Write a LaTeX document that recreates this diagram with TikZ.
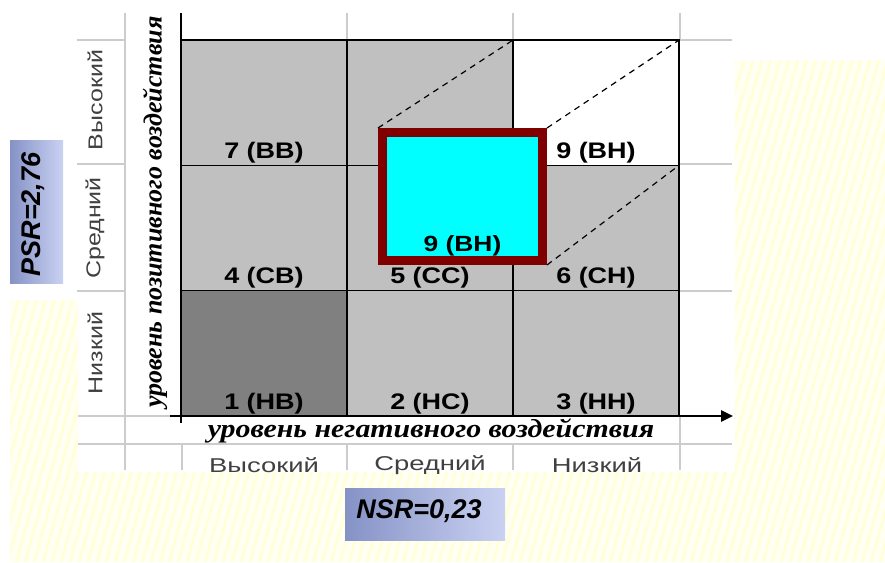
\documentclass[tikz,border=0pt]{standalone}
\usepackage{fontspec}
\setmainfont{Liberation Sans}
\newfontfamily\widesans[FakeStretch=1.2]{Liberation Sans}
\newfontfamily\rowsans[FakeStretch=1.25]{Liberation Sans}
\newfontfamily\colsans[FakeStretch=1.37]{Liberation Sans}
\newfontfamily\axisfont{Liberation Serif}
\newfontfamily\axiswide[FakeStretch=1.15]{Liberation Serif}
\usetikzlibrary{positioning,arrows.meta,shadings}
\definecolor{CellGray}{HTML}{C0C0C0}
\definecolor{DarkCell}{HTML}{808080}
\definecolor{GridGray}{HTML}{CCCCCC}
\definecolor{LabelGray}{HTML}{404040}
\definecolor{BoxRed}{HTML}{800000}
\definecolor{BoxCyan}{HTML}{00FFFF}
\definecolor{BgYellow}{HTML}{FFFFF3}
\definecolor{StripeYellow}{HTML}{FFFFDA}
\definecolor{TagBlueL}{HTML}{8592C6}
\definecolor{TagBlueR}{HTML}{CAD2F2}

\begin{document}
\begin{tikzpicture}[x=1pt, y=-1pt,
  cell/.style    = {draw=black, line width=1.5pt, fill=CellGray,
                    minimum width=166pt, minimum height=125.3pt,
                    inner sep=0pt, outer sep=0pt},
  celltxt/.style = {font=\widesans\fontsize{22.5}{24}\selectfont\bfseries,
                    inner sep=1pt},
  rowtxt/.style  = {font=\rowsans\fontsize{20}{22}\selectfont,
                    text=LabelGray, inner sep=0pt},
  coltxt/.style  = {font=\colsans\fontsize{20}{22}\selectfont,
                    text=LabelGray, inner sep=0pt},
  axistxt/.style = {font=\axisfont\fontsize{26}{28}\selectfont\bfseries\itshape,
                    inner sep=0pt},
  tag/.style     = {left color=TagBlueL, right color=TagBlueR, inner sep=0pt},
  tagtxt/.style  = {font=\fontsize{27}{29}\selectfont\bfseries\itshape,
                    inner sep=0pt},
  gridln/.style  = {GridGray, line width=1.3pt},
  axis/.style    = {black, line width=2.5pt},
  proj/.style    = {dashed, line width=1.2pt, dash pattern=on 6pt off 5pt}
]
  \useasboundingbox (0,0) rectangle (885,562);

  % slide background stripes
  \begin{scope}
    \clip (10,300) rectangle (78,562) (78,472) rectangle (885,562)
          (735,60) rectangle (885,472);
    \fill[BgYellow] (0,0) rectangle (885,562);
    \foreach \s in {-200,-191,...,900}
      \draw[StripeYellow, line width=3pt] (\s,562) -- (\s+160,0);
  \end{scope}

  % spreadsheet grid lines
  \draw[gridln] (125,13) -- (125,470);
  \foreach \y in {40,164,291}
    \draw[gridln] (77,\y) -- (125,\y);
  \foreach \y in {40,164,291}
    \draw[gridln] (680,\y) -- (732,\y);
  \draw[gridln] (78,416) -- (181,416);
  \draw[gridln] (78,444) -- (732,444);
  \foreach \x in {347,513,680}
    \draw[gridln] (\x,13) -- (\x,40);
  \foreach \x in {182,347,513}
    \draw[gridln] (\x,444) -- (\x,470);
  \draw[gridln] (680,416) -- (680,470);

  % matrix cells
  \foreach \n/\c/\r/\f/\t in {7/0/0/CellGray/7 (BB), 8/1/0/CellGray/,
      9/2/0/white/9 (BH), 4/0/1/CellGray/4 (CB), 5/1/1/CellGray/5 (CC),
      6/2/1/CellGray/6 (CH), 1/0/2/DarkCell/1 (HB), 2/1/2/CellGray/2 (HC),
      3/2/2/CellGray/3 (HH)}{
    \node[cell, fill=\f,
          label={[celltxt, anchor=south, yshift=1pt]south:\t}]
      (n\n) at ({264+166*\c}, {102.7+125.3*\r}) {};
  }

  % axes
  \coordinate (ytop) at (181,13);
  \coordinate (ybot) at (181,423);
  \coordinate (xbeg) at (170,416);
  \coordinate (xend) at (733,416);
  \draw[axis] (ytop) -- (ybot);
  \draw[axis, -{Triangle[length=12pt, width=11pt]}] (xbeg) -- (xend);

  % highlighted target cell
  \node[draw=BoxRed, line width=9pt, fill=BoxCyan,
        minimum width=160pt, minimum height=128pt, inner sep=0pt,
        label={[celltxt, font=\widesans\fontsize{22}{24}\selectfont\bfseries,
                anchor=south, yshift=8pt]south:9 (BH)}]
    (hl) at (462.5,196.5) {};
  \draw[proj] (hl.north west) -- (n9.north west);
  \draw[proj] (hl.north east) -- (n9.north east);
  \draw[proj] (hl.south east) -- (n6.north east);

  % axis titles and level names
  \node[axistxt, rotate=90] (ylab) at (155,212)
    {уровень позитивного воздействия};
  \node[axistxt, font=\axiswide\fontsize{26}{28}\selectfont\bfseries\itshape]
    (xlab) at (431,431) {уровень негативного воздействия};
  \node[rowtxt, rotate=90] (r1) at (95,100) {Высокий};
  \node[rowtxt, rotate=90] (r2) at (95,228) {Средний};
  \node[rowtxt, rotate=90] (r3) at (95,353) {Низкий};
  \node[coltxt] (k1) at (264,465) {Высокий};
  \node[coltxt] (k2) at (430,465) {Средний};
  \node[coltxt] (k3) at (597,465) {Низкий};

  % ratio tags
  \node[tag, minimum width=53pt, minimum height=143pt] (psr) at (36.5,211.5) {};
  \node[tagtxt, rotate=90] (psrtxt) at (33,214.5) {PSR=2,76};
  \node[tag, minimum width=160pt, minimum height=52pt] (nsr) at (425,514) {};
  \node[tagtxt] (nsrtxt) at (419,511) {NSR=0,23};
\end{tikzpicture}
\end{document}
